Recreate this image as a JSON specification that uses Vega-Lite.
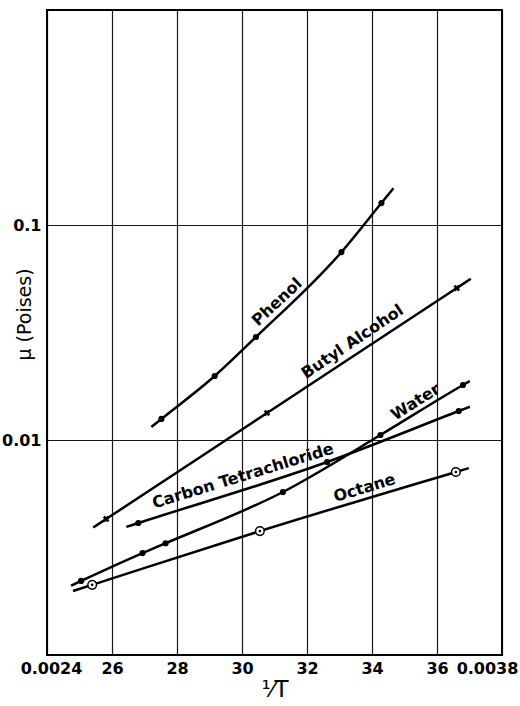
{
  "$schema": "https://vega.github.io/schema/vega-lite/v6.json",
  "width": 455,
  "height": 645,
  "autosize": {"type": "none"},
  "padding": {"left": 47, "top": 10, "right": 18, "bottom": 51},
  "background": "white",
  "config": {"view": {"stroke": "black", "strokeWidth": 2}, "font": "DejaVu Sans"},
  "datasets": {
    "viscosity": [
      {"liquid": "Phenol", "inv_T": 0.002721, "mu": 0.01149, "measured": false},
      {"liquid": "Phenol", "inv_T": 0.002752, "mu": 0.01253, "measured": true},
      {"liquid": "Phenol", "inv_T": 0.002916, "mu": 0.01985, "measured": true},
      {"liquid": "Phenol", "inv_T": 0.003043, "mu": 0.03013, "measured": true},
      {"liquid": "Phenol", "inv_T": 0.003306, "mu": 0.0748, "measured": true},
      {"liquid": "Phenol", "inv_T": 0.003429, "mu": 0.1265, "measured": true},
      {"liquid": "Phenol", "inv_T": 0.003466, "mu": 0.1482, "measured": false},
      {"liquid": "Butyl Alcohol", "inv_T": 0.002542, "mu": 0.003915, "measured": false},
      {"liquid": "Butyl Alcohol", "inv_T": 0.002582, "mu": 0.00429, "measured": true},
      {"liquid": "Butyl Alcohol", "inv_T": 0.003077, "mu": 0.01336, "measured": true},
      {"liquid": "Butyl Alcohol", "inv_T": 0.003661, "mu": 0.0509, "measured": true},
      {"liquid": "Butyl Alcohol", "inv_T": 0.003704, "mu": 0.0562, "measured": false},
      {"liquid": "Carbon Tetrachloride", "inv_T": 0.002644, "mu": 0.003942, "measured": false},
      {"liquid": "Carbon Tetrachloride", "inv_T": 0.002681, "mu": 0.00411, "measured": true},
      {"liquid": "Carbon Tetrachloride", "inv_T": 0.003262, "mu": 0.0079, "measured": true},
      {"liquid": "Carbon Tetrachloride", "inv_T": 0.003667, "mu": 0.01364, "measured": true},
      {"liquid": "Carbon Tetrachloride", "inv_T": 0.003701, "mu": 0.01428, "measured": false},
      {"liquid": "Water", "inv_T": 0.002474, "mu": 0.0021, "measured": false},
      {"liquid": "Water", "inv_T": 0.002505, "mu": 0.00221, "measured": true},
      {"liquid": "Water", "inv_T": 0.002694, "mu": 0.00298, "measured": true},
      {"liquid": "Water", "inv_T": 0.002765, "mu": 0.00331, "measured": true},
      {"liquid": "Water", "inv_T": 0.003126, "mu": 0.00573, "measured": true},
      {"liquid": "Water", "inv_T": 0.003426, "mu": 0.01055, "measured": true},
      {"liquid": "Water", "inv_T": 0.00368, "mu": 0.01803, "measured": true},
      {"liquid": "Water", "inv_T": 0.003701, "mu": 0.0188, "measured": false},
      {"liquid": "Octane", "inv_T": 0.00248, "mu": 0.001985, "measured": false},
      {"liquid": "Octane", "inv_T": 0.002539, "mu": 0.00212, "measured": true},
      {"liquid": "Octane", "inv_T": 0.003055, "mu": 0.00377, "measured": true},
      {"liquid": "Octane", "inv_T": 0.003658, "mu": 0.0071, "measured": true},
      {"liquid": "Octane", "inv_T": 0.003698, "mu": 0.0074, "measured": false}
    ],
    "labels": [
      {"label": "Phenol", "inv_T": 0.003108, "mu": 0.0438},
      {"label": "Butyl Alcohol", "inv_T": 0.00334, "mu": 0.0286},
      {"label": "Water", "inv_T": 0.003534, "mu": 0.01502},
      {"label": "Carbon Tetrachloride", "inv_T": 0.003003, "mu": 0.0068},
      {"label": "Octane", "inv_T": 0.003377, "mu": 0.00598}
    ]
  },
  "layer": [
    {
      "data": {"name": "viscosity"},
      "mark": {"type": "line", "interpolate": "monotone", "color": "black", "strokeWidth": 2.5},
      "encoding": {
        "x": {
          "field": "inv_T", "type": "quantitative",
          "scale": {"domain": [0.0024, 0.0038], "nice": false, "zero": false},
          "axis": {
            "values": [0.0024, 0.0026, 0.0028, 0.003, 0.0032, 0.0034, 0.0036, 0.0038],
            "labelExpr": "(datum.value < 0.00241 || datum.value > 0.00379) ? format(datum.value, '.4f') : format(datum.value * 10000, '.0f')",
            "grid": true, "gridColor": "black", "gridWidth": 1.2, "gridOpacity": 0.9,
            "ticks": false, "domain": false,
            "labelFont": "DejaVu Sans", "labelFontSize": 16, "labelFontWeight": "bold", "labelColor": "black",
            "labelPadding": 5, "labelOverlap": false, "labelFlush": false, "labelBound": false,
            "labelOffset": {"condition": [{"test": "datum.value > 0.00379", "value": -15}, {"test": "datum.value < 0.00241", "value": 4}], "value": 0},
            "title": "¹⁄T", "titleFont": "DejaVu Sans", "titleFontSize": 23, "titleFontWeight": "normal", "titleColor": "black", "titlePadding": 2
          }
        },
        "y": {
          "field": "mu", "type": "quantitative",
          "scale": {"type": "log", "domain": [0.001, 1], "nice": false},
          "axis": {
            "values": [0.001, 0.01, 0.1, 1],
            "labelExpr": "(datum.value > 0.005 && datum.value < 0.05) ? '0.01' : ((datum.value > 0.05 && datum.value < 0.5) ? '0.1' : '')",
            "grid": true, "gridColor": "black", "gridWidth": 1.2, "gridOpacity": 0.9,
            "ticks": false, "domain": false,
            "labelFont": "DejaVu Sans", "labelFontSize": 16, "labelFontWeight": "bold", "labelColor": "black",
            "labelPadding": 6, "labelOverlap": false,
            "title": "μ (Poises)", "titleFont": "DejaVu Sans", "titleFontSize": 19, "titleFontWeight": "normal", "titleColor": "black",
            "titleX": -23, "titleY": 304, "titleAngle": -90, "titleAlign": "center", "titleBaseline": "middle"
          }
        },
        "detail": {"field": "liquid"}
      }
    },
    {
      "data": {"name": "viscosity"},
      "transform": [{"filter": "datum.measured && (datum.liquid == 'Phenol' || datum.liquid == 'Water' || datum.liquid == 'Carbon Tetrachloride')"}],
      "mark": {"type": "point", "shape": "circle", "filled": true, "color": "black", "size": 38, "opacity": 1},
      "encoding": {"x": {"field": "inv_T", "type": "quantitative"}, "y": {"field": "mu", "type": "quantitative"}}
    },
    {
      "data": {"name": "viscosity"},
      "transform": [{"filter": "datum.measured && datum.liquid == 'Butyl Alcohol'"}],
      "mark": {"type": "point", "shape": "cross", "angle": 45, "filled": true, "color": "black", "size": 45, "opacity": 1},
      "encoding": {"x": {"field": "inv_T", "type": "quantitative"}, "y": {"field": "mu", "type": "quantitative"}}
    },
    {
      "data": {"name": "viscosity"},
      "transform": [{"filter": "datum.measured && datum.liquid == 'Octane'"}],
      "mark": {"type": "point", "shape": "circle", "filled": false, "fill": "white", "fillOpacity": 1, "stroke": "black", "strokeWidth": 1.5, "size": 75, "opacity": 1},
      "encoding": {"x": {"field": "inv_T", "type": "quantitative"}, "y": {"field": "mu", "type": "quantitative"}}
    },
    {
      "data": {"name": "viscosity"},
      "transform": [{"filter": "datum.measured && datum.liquid == 'Octane'"}],
      "mark": {"type": "point", "shape": "circle", "filled": true, "color": "black", "size": 7, "opacity": 1},
      "encoding": {"x": {"field": "inv_T", "type": "quantitative"}, "y": {"field": "mu", "type": "quantitative"}}
    },
    {
      "data": {"name": "labels"},
      "transform": [{"filter": "datum.label == 'Phenol'"}],
      "mark": {"type": "text", "angle": -43, "font": "DejaVu Sans", "fontSize": 16, "fontWeight": "bold", "color": "black", "align": "center", "baseline": "middle"},
      "encoding": {"x": {"field": "inv_T", "type": "quantitative"}, "y": {"field": "mu", "type": "quantitative"}, "text": {"field": "label"}}
    },
    {
      "data": {"name": "labels"},
      "transform": [{"filter": "datum.label == 'Butyl Alcohol'"}],
      "mark": {"type": "text", "angle": -34, "font": "DejaVu Sans", "fontSize": 16, "fontWeight": "bold", "color": "black", "align": "center", "baseline": "middle"},
      "encoding": {"x": {"field": "inv_T", "type": "quantitative"}, "y": {"field": "mu", "type": "quantitative"}, "text": {"field": "label"}}
    },
    {
      "data": {"name": "labels"},
      "transform": [{"filter": "datum.label == 'Water'"}],
      "mark": {"type": "text", "angle": -32, "font": "DejaVu Sans", "fontSize": 16, "fontWeight": "bold", "color": "black", "align": "center", "baseline": "middle"},
      "encoding": {"x": {"field": "inv_T", "type": "quantitative"}, "y": {"field": "mu", "type": "quantitative"}, "text": {"field": "label"}}
    },
    {
      "data": {"name": "labels"},
      "transform": [{"filter": "datum.label == 'Carbon Tetrachloride'"}],
      "mark": {"type": "text", "angle": -17, "font": "DejaVu Sans", "fontSize": 16, "fontWeight": "bold", "color": "black", "align": "center", "baseline": "middle"},
      "encoding": {"x": {"field": "inv_T", "type": "quantitative"}, "y": {"field": "mu", "type": "quantitative"}, "text": {"field": "label"}}
    },
    {
      "data": {"name": "labels"},
      "transform": [{"filter": "datum.label == 'Octane'"}],
      "mark": {"type": "text", "angle": -17, "font": "DejaVu Sans", "fontSize": 16, "fontWeight": "bold", "color": "black", "align": "center", "baseline": "middle"},
      "encoding": {"x": {"field": "inv_T", "type": "quantitative"}, "y": {"field": "mu", "type": "quantitative"}, "text": {"field": "label"}}
    }
  ]
}
